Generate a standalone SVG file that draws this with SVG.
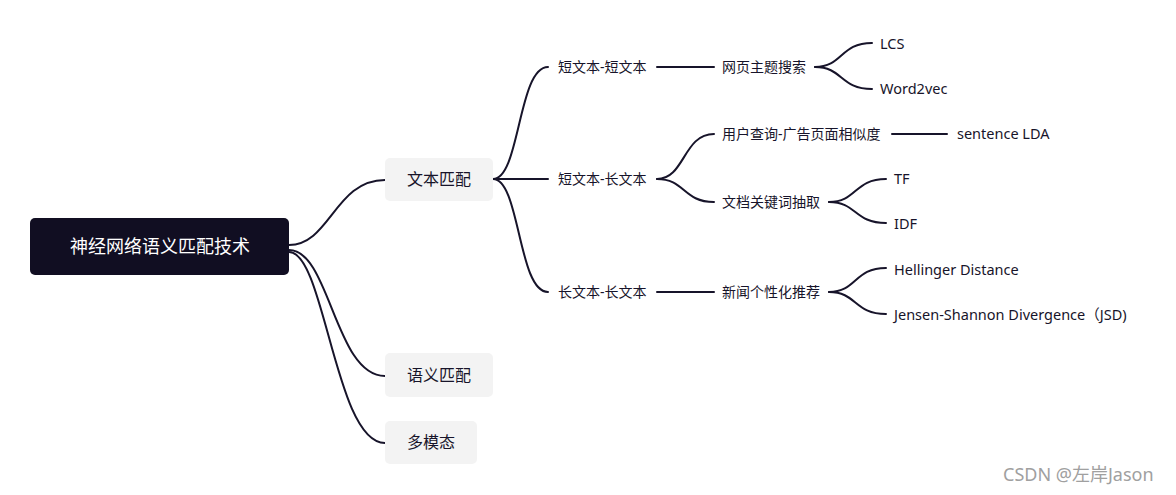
<svg xmlns="http://www.w3.org/2000/svg" width="1176" height="495" viewBox="0 0 1176 495">
<style>
.c{fill:none;stroke:#17142a;stroke-width:2;stroke-linecap:round}
.t{font-family:"Noto Sans","Noto Sans CJK SC",sans-serif;fill:#17142a;dominant-baseline:central}
.s{font-size:14px}
.l{font-size:14.5px}
.n{fill:#f3f3f3}
</style>
<rect width="1176" height="495" fill="#ffffff"/>
<g id="connectors">
<path class="c" d="M289,245 C330,245 335,180 385,180"/>
<path class="c" d="M289,250 C330,250 335,376 385,376"/>
<path class="c" d="M289,252 C325,252 335,443 385,443"/>
<path class="c" d="M493,179 C520,179 518,67 548,67"/>
<path class="c" d="M493,179 L548,179"/>
<path class="c" d="M493,179 C520,179 518,292 548,292"/>
<path class="c" d="M657,67 L714,67"/>
<path class="c" d="M657,179 C685,179 683,134 714,134"/>
<path class="c" d="M657,179 C685,179 683,202 714,202"/>
<path class="c" d="M657,292 L714,292"/>
<path class="c" d="M815,67 C843,67 840,43 872,43"/>
<path class="c" d="M815,67 C843,67 840,89 872,89"/>
<path class="c" d="M892,134 L947,134"/>
<path class="c" d="M829,202 C857,202 854,179 886,179"/>
<path class="c" d="M829,202 C857,202 854,223 886,223"/>
<path class="c" d="M829,292 C857,292 854,268 886,268"/>
<path class="c" d="M829,292 C857,292 854,314 886,314"/>
</g>
<g id="root">
<rect x="30" y="218" width="259" height="57" rx="5" fill="#110e22"/>
<text class="t" x="160" y="246" text-anchor="middle" font-size="18" style="fill:#ffffff">神经网络语义匹配技术</text>
</g>
<g id="n-wenben">
<rect class="n" x="385" y="158" width="108" height="43" rx="5"/>
<text class="t" x="439" y="179" text-anchor="middle" font-size="16">文本匹配</text>
</g>
<g id="n-yuyi">
<rect class="n" x="385" y="353" width="108" height="44" rx="5"/>
<text class="t" x="439" y="374.5" text-anchor="middle" font-size="16">语义匹配</text>
</g>
<g id="n-duomotai">
<rect class="n" x="385" y="421" width="92" height="43" rx="5"/>
<text class="t" x="431" y="442" text-anchor="middle" font-size="16">多模态</text>
</g>
<g id="n-ss"><text class="t s" x="558" y="66.5">短文本-短文本</text></g>
<g id="n-sl"><text class="t s" x="558" y="178.5">短文本-长文本</text></g>
<g id="n-ll"><text class="t s" x="558" y="291.5">长文本-长文本</text></g>
<g id="n-web"><text class="t s" x="722" y="66.5">网页主题搜索</text></g>
<g id="n-ad"><text class="t s" x="722" y="133.5">用户查询-广告页面相似度</text></g>
<g id="n-kw"><text class="t s" x="722" y="201.5">文档关键词抽取</text></g>
<g id="n-news"><text class="t s" x="722" y="291.5">新闻个性化推荐</text></g>
<g id="n-lcs"><text class="t l" x="880" y="42.5">LCS</text></g>
<g id="n-w2v"><text class="t l" x="880" y="88">Word2vec</text></g>
<g id="n-lda"><text class="t l" x="957" y="133">sentence LDA</text></g>
<g id="n-tf"><text class="t l" x="894" y="178">TF</text></g>
<g id="n-idf"><text class="t l" x="894" y="222.5">IDF</text></g>
<g id="n-hd"><text class="t l" x="894" y="268.5">Hellinger Distance</text></g>
<g id="n-jsd"><text class="t l" x="894" y="313.5">Jensen-Shannon Divergence（JSD)</text></g>
<text x="1003" y="481" font-family="Noto Sans, Noto Sans CJK SC, sans-serif" font-size="18" fill="#a0a0a0">CSDN @左岸Jason</text>
</svg>
